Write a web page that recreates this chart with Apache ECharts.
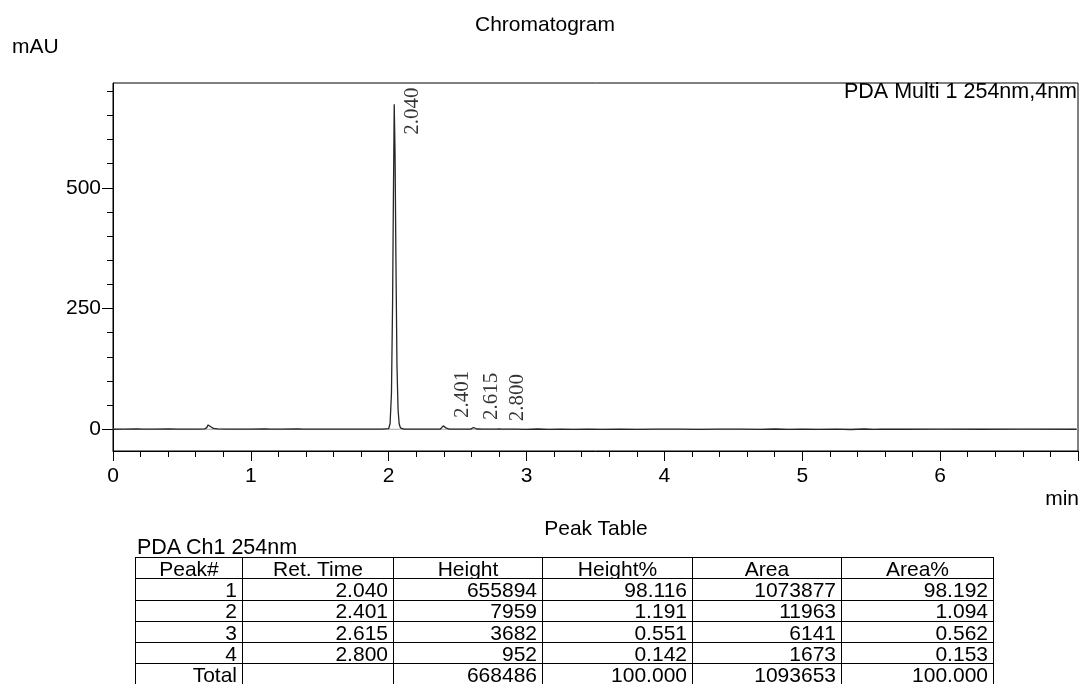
<!DOCTYPE html>
<html>
<head>
<meta charset="utf-8">
<title>Chromatogram</title>
<script src="https://cdn.jsdelivr.net/npm/echarts@6/dist/echarts.min.js"></script>
<style>
  html, body { margin: 0; padding: 0; background: #fff; }
  body { width: 1082px; height: 684px; overflow: hidden; position: relative; }
  #chart { position: absolute; left: 0; top: 0; width: 1082px; height: 684px; }
  .cap { position: absolute; font: 21px "Liberation Sans", Arial, sans-serif; color: #000; white-space: nowrap; line-height: 21px; }
  #tableTitle { left: 0; width: 1192px; text-align: center; top: 517px; }
  #chanTitle { left: 137px; top: 537px; font-size: 21.5px; }
  #peakTable {
    position: absolute; left: 135px; top: 557px;
    border-collapse: collapse; table-layout: fixed;
    font: 21px "Liberation Sans", Arial, sans-serif; color: #000;
  }
  #peakTable td, #peakTable th {
    border: 1px solid #000; padding: 0 5px 0 0; height: 20.3px; line-height: 19px;
    text-align: right; font-weight: normal; white-space: nowrap; overflow: hidden;
  }
  #peakTable th { text-align: center; padding: 0; }
</style>
</head>
<body>
<div id="chart"></div>
<div id="tableTitle" class="cap">Peak Table</div>
<div id="chanTitle" class="cap">PDA Ch1 254nm</div>
<table id="peakTable">
  <colgroup>
    <col style="width:107px"><col style="width:151px"><col style="width:149px">
    <col style="width:150px"><col style="width:149px"><col style="width:152px">
  </colgroup>
  <thead><tr id="headRow"></tr></thead>
  <tbody id="tableBody"></tbody>
</table>
<script>
// Detector trace (PDA 254 nm): retention time in min, absorbance in mAU
const traceTime = [
  0.00, 0.08, 0.17, 0.22, 0.30, 0.41, 0.46, 0.55, 0.62, 0.665, 0.68, 0.69, 0.70, 0.715, 0.73, 0.76,
  0.82, 0.92, 1.00, 1.10, 1.14, 1.22, 1.34, 1.38, 1.48, 1.60, 1.72, 1.85, 1.95,
  2.000, 2.010, 2.020, 2.028, 2.034, 2.040, 2.046, 2.052, 2.060, 2.068, 2.076, 2.085, 2.095,
  2.11, 2.16, 2.24, 2.32, 2.375, 2.388, 2.396, 2.401, 2.408, 2.418, 2.435, 2.47, 2.54,
  2.595, 2.607, 2.615, 2.624, 2.64, 2.68, 2.74, 2.785, 2.800, 2.815, 2.85, 2.92,
  3.00, 3.08, 3.16, 3.25, 3.34, 3.45, 3.55, 3.68, 3.80, 3.95, 4.10, 4.25, 4.40, 4.55, 4.70,
  4.80, 4.90, 5.00, 5.12, 5.25, 5.35, 5.45, 5.52, 5.58, 5.75, 6.00, 6.30, 6.60, 6.99
];
const traceMAU = [
  0.0, 0.2, 0.6, 0.1, 0.3, 0.7, 0.2, 0.4, 0.3, 0.8, 3.5, 9.0, 7.5, 4.0, 2.0, 0.9,
  0.4, 0.2, 0.3, 0.9, 0.3, 0.2, 0.8, 0.3, 0.2, 0.4, 0.2, 0.3, 0.4,
  1.5, 12, 75, 260, 480, 673, 570, 360, 130, 40, 11, 3, 1,
  0.3, 0.2, 0.4, 0.2, 0.5, 3.5, 7.0, 7.96, 5.8, 2.2, 0.6, 0.3, 0.2,
  0.4, 2.0, 3.68, 2.1, 0.6, 0.3, 0.2, 0.3, 0.95, 0.4, 0.2, 0.4,
  -0.3, 0.6, -0.2, 0.5, -0.4, 0.4, -0.3, 0.5, -0.2, 0.3, 0.1, -0.3, 0.4, 0.5, -0.2,
  0.6, -0.4, 0.5, -0.3, 0.4, -0.5, 0.6, -0.3, 0.2, 0.0, 0.1, 0.0, 0.1, 0.0
];

// Integrated peaks: retention time (min) and apex (mAU)
const peakTimes = [2.040, 2.401, 2.615, 2.800];
const peakApex = [673, 7.96, 3.68, 0.95];

// Axis ranges and ticks
const timeRange = [0, 7];
const mauRange = [-45, 717];
const xTickLabels = [0, 1, 2, 3, 4, 5, 6];
const yMajorTicks = [0, 250, 500];
const yMinorTicks = [50, 100, 150, 200, 300, 350, 400, 450, 550, 600, 650, 700];

// Peak table
const tableHeader = ['Peak#', 'Ret. Time', 'Height', 'Height%', 'Area', 'Area%'];
const peakNumber = ['1', '2', '3', '4'];
const retTime = ['2.040', '2.401', '2.615', '2.800'];
const peakHeight = ['655894', '7959', '3682', '952'];
const heightPct = ['98.116', '1.191', '0.551', '0.142'];
const peakArea = ['1073877', '11963', '6141', '1673'];
const areaPct = ['98.192', '1.094', '0.562', '0.153'];
const totalRow = ['Total', '', '668486', '100.000', '1093653', '100.000'];

// ---- table ----
const headRow = document.getElementById('headRow');
tableHeader.forEach(h => { const th = document.createElement('th'); th.textContent = h; headRow.appendChild(th); });
const tbody = document.getElementById('tableBody');
const rows = peakNumber.map((n, i) => [n, retTime[i], peakHeight[i], heightPct[i], peakArea[i], areaPct[i]]);
rows.push(totalRow);
rows.forEach(r => {
  const tr = document.createElement('tr');
  r.forEach(c => { const td = document.createElement('td'); td.textContent = c; tr.appendChild(td); });
  tbody.appendChild(tr);
});

// ---- chart ----
const GRID = { left: 113, top: 83, right: 4, bottom: 233 };
const SANS = '"Liberation Sans", Arial, sans-serif';
const SERIF = '"Liberation Serif", "Times New Roman", serif';
const chart = echarts.init(document.getElementById('chart'), null, { renderer: 'canvas' });

const axisBlack = { color: '#000', width: 1 };
const option = {
  animation: false,
  backgroundColor: '#fff',
  grid: { ...GRID, show: true, borderColor: '#000', borderWidth: 1, backgroundColor: 'transparent' },
  xAxis: {
    type: 'value', min: timeRange[0], max: timeRange[1], interval: 1,
    axisLine: { show: true, onZero: false, lineStyle: axisBlack },
    axisTick: { show: true, length: 10, lineStyle: axisBlack },
    minorTick: { show: true, splitNumber: 5, length: 6, lineStyle: axisBlack },
    axisLabel: { customValues: xTickLabels, margin: 15, fontSize: 21, fontFamily: SANS, color: '#000' },
    splitLine: { show: false }, minorSplitLine: { show: false }
  },
  yAxis: [
    {
      type: 'value', min: mauRange[0], max: mauRange[1],
      axisLine: { show: true, onZero: false, lineStyle: axisBlack },
      axisTick: { show: true, customValues: yMajorTicks, length: 11, lineStyle: axisBlack },
      axisLabel: { customValues: yMajorTicks, margin: 12, fontSize: 21, fontFamily: SANS, color: '#000' },
      splitLine: { show: false }
    },
    {
      type: 'value', min: mauRange[0], max: mauRange[1], position: 'left',
      axisLine: { show: false, onZero: false },
      axisTick: { show: true, customValues: yMinorTicks, length: 6, lineStyle: axisBlack },
      axisLabel: { show: false },
      splitLine: { show: false }
    }
  ],
  series: [
    {
      // zero reference line across the full run
      id: 'zero', type: 'line', xAxisIndex: 0, yAxisIndex: 0,
      data: timeRange.map(t => [t, 0]),
      showSymbol: false, symbol: 'none', silent: true, z: 2,
      lineStyle: { color: '#a8a8a8', width: 1 }
    },
    {
      id: 'trace', type: 'line', xAxisIndex: 0, yAxisIndex: 0,
      data: traceTime.map((t, i) => [t, traceMAU[i]]),
      showSymbol: false, symbol: 'none', silent: true, z: 3,
      lineStyle: { color: '#262626', width: 1.3 }
    },
    {
      id: 'peaks', type: 'scatter', xAxisIndex: 0, yAxisIndex: 0,
      data: peakTimes.map((t, i) => [t, peakApex[i]]),
      symbolSize: 1, itemStyle: { color: 'transparent' }, silent: true, z: 4,
      label: {
        show: true, rotate: 90, position: [8, -7], align: 'left', verticalAlign: 'top',
        fontSize: 21, fontFamily: SERIF, color: '#000',
        formatter: p => p.value[0].toFixed(3)
      }
    }
  ],
  graphic: [
    { type: 'text', x: 545, y: 25, style: { text: 'Chromatogram', font: '21px ' + SANS, fill: '#000', align: 'center', verticalAlign: 'middle' } },
    { type: 'text', x: 12, y: 47, style: { text: 'mAU', font: '21px ' + SANS, fill: '#000', align: 'left', verticalAlign: 'middle' } },
    { type: 'text', x: 1077, y: 92.5, style: { text: 'PDA Multi 1 254nm,4nm', font: '21.5px ' + SANS, fill: '#000', align: 'right', verticalAlign: 'middle' } },
    { type: 'text', x: 1079, y: 499, style: { text: 'min', font: '21px ' + SANS, fill: '#000', align: 'right', verticalAlign: 'middle' } }
  ]
};
chart.setOption(option);

// Rotated retention-time labels sit just above each apex,
// pushed down when the text would run past the top of the plot.
(function placePeakLabels() {
  const ctx = document.createElement('canvas').getContext('2d');
  ctx.font = '21px ' + SERIF;
  const data = peakTimes.map((t, i) => {
    const apexY = chart.convertToPixel({ xAxisIndex: 0, yAxisIndex: 0 }, [t, peakApex[i]])[1];
    const len = ctx.measureText(t.toFixed(3)).width;
    const bottom = Math.max(apexY - 7, GRID.top + 5 + len);
    return { value: [t, peakApex[i]], label: { position: [8, bottom - apexY] } };
  });
  chart.setOption({ series: [{ id: 'peaks', data }] });
})();
</script>
</body>
</html>
